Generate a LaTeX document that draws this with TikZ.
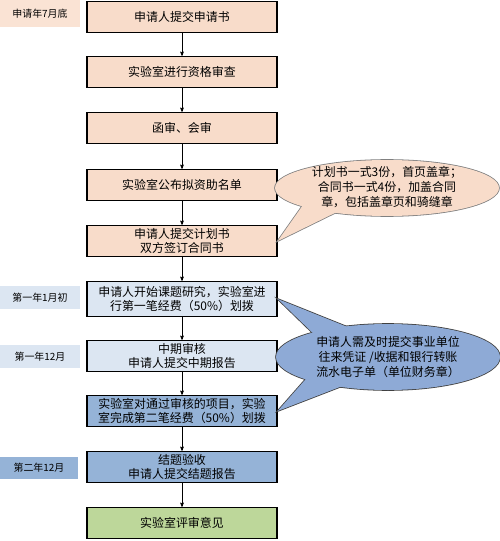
\documentclass[tikz,border=0pt]{standalone}
\usepackage{fontspec}
\newfontfamily\cjk{Noto Sans CJK SC}
\usepackage{tikz}
\usetikzlibrary{arrows}
\usepackage{xcolor}
\definecolor{peach}{HTML}{F8DCCA}
\definecolor{peachlight}{HTML}{FAE3D4}
\definecolor{paleblue}{HTML}{DCE6F2}
\definecolor{midblue}{HTML}{95B3D7}
\definecolor{noteblue}{HTML}{8EAAD6}
\definecolor{leafgreen}{HTML}{BDD79A}

\begin{document}
\begin{tikzpicture}[x=1bp, y=-1bp,
  stepbox/.style={draw, line width=1.4pt, minimum width=190bp, minimum height=31bp, inner sep=1pt, align=center, font=\cjk\fontsize{12}{14}\selectfont},
  datebox/.style={minimum width=80bp, inner sep=0pt, font=\cjk\fontsize{10}{12}\selectfont},
  notetext/.style={align=center, font=\cjk\fontsize{12}{15.5}\selectfont},
  flow/.style={semithick, ->, >=stealth'}]

\useasboundingbox (0,0) rectangle (500,541);

\node[stepbox, fill=peach] (apply) at (182,17) {申请人提交申请书};
\node[stepbox, fill=peach] (check) at (182,72) {实验室进行资格审查};
\node[stepbox, fill=peach] (review) at (182,128) {函审、会审};
\node[stepbox, fill=peach] (publish) at (182,185) {实验室公布拟资助名单};
\node[stepbox, fill=peach] (contract) at (182,241) {申请人提交计划书\\双方签订合同书};
\node[stepbox, fill=paleblue, minimum height=35bp] (start) at (182,299) {申请人开始课题研究，实验室进\\行第一笔经费（50\%）划拨};
\node[stepbox, fill=paleblue] (midterm) at (182,356) {中期审核\\申请人提交中期报告};
\node[stepbox, fill=midblue] (second) at (182,411) {实验室对通过审核的项目，实验\\室完成第二笔经费（50\%）划拨};
\node[stepbox, fill=midblue] (final) at (182,467) {结题验收\\申请人提交结题报告};
\node[stepbox, fill=leafgreen] (opinion) at (182,523) {实验室评审意见};

\foreach \a/\b in {apply/check, check/review, review/publish, publish/contract, contract/start, start/midterm, midterm/second, second/final, final/opinion}
  \draw[flow] (\a.south) -- (\b.north);

\node[datebox, fill=peachlight, minimum height=27bp] (d1) at (40,13.5) {申请年7月底};
\node[datebox, fill=paleblue, minimum height=23bp] (d2) at (40,297.5) {第一年1月初};
\node[datebox, fill=paleblue, minimum height=23bp] (d3) at (40,356.5) {第一年12月};
\node[datebox, fill=midblue, minimum height=22bp, minimum width=78bp] (d4) at (39,468) {第二年12月};

% callout on the contract
\draw[line width=1.6pt, gray] (387,188) ellipse [x radius=112bp, y radius=28bp];
\draw[line width=1.6pt, gray] (303,205) -- (contract.east) -- (345,208) -- cycle;
\fill[peach] (387,188) ellipse [x radius=112bp, y radius=28bp];
\fill[peach] (303,205) -- (contract.east) -- (345,208) -- cycle;
\node[notetext] (plannote) at (387,187) {计划书一式3份，首页盖章；\\合同书一式4份，加盖合同\\章，包括盖章页和骑缝章};

% callout on the two payments
\draw[line width=1.6pt, black!75] (388,357) ellipse [x radius=112bp, y radius=33bp];
\draw[line width=1.6pt, black!75] (320,340) -- (start.east) -- (355,330) -- cycle;
\draw[line width=1.6pt, black!75] (312,372) -- (second.east) -- (345,385) -- cycle;
\fill[noteblue] (388,357) ellipse [x radius=112bp, y radius=33bp];
\fill[noteblue] (320,340) -- (start.east) -- (355,330) -- cycle;
\fill[noteblue] (312,372) -- (second.east) -- (345,385) -- cycle;
\node[notetext, font=\cjk\fontsize{12}{15}\selectfont] (paynote) at (388,357) {申请人需及时提交事业单位\\往来凭证 /收据和银行转账\\流水电子单（单位财务章）};

\end{tikzpicture}
\end{document}
